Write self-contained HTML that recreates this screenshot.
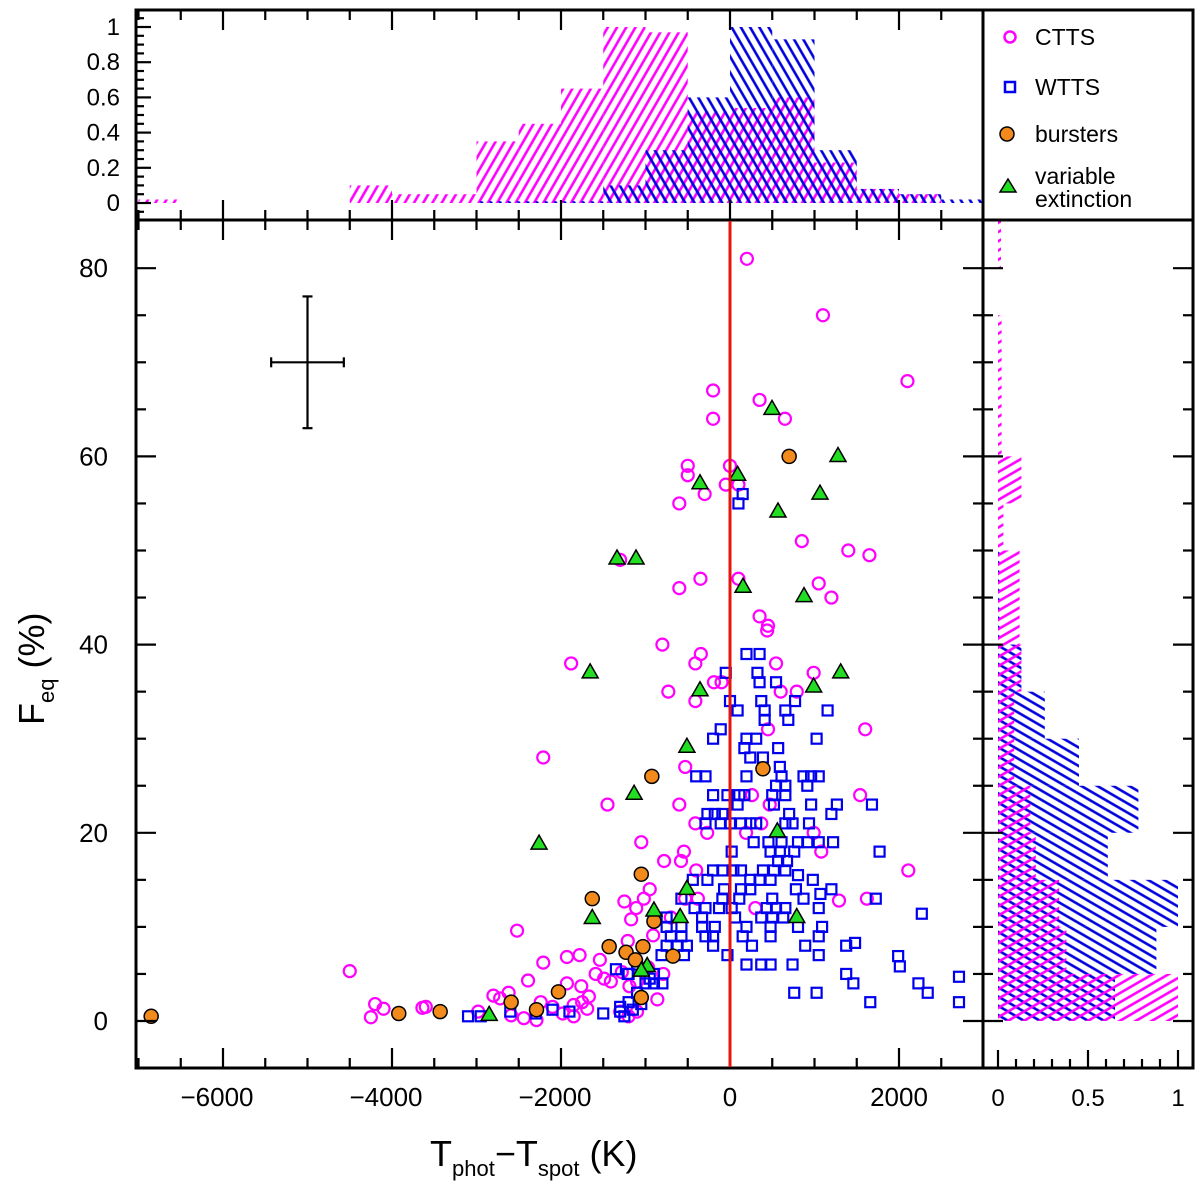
<!DOCTYPE html>
<html><head><meta charset="utf-8"><style>
html,body{margin:0;padding:0;background:#fff;}
svg{display:block;font-family:"Liberation Sans",sans-serif;}
</style></head>
<body>
<svg id="chart" width="1200" height="1186" viewBox="0 0 1200 1186" xmlns="http://www.w3.org/2000/svg">
<defs>
<pattern id="hatchMagTop" patternUnits="userSpaceOnUse" width="8" height="8" patternTransform="rotate(30)"><line x1="4" y1="0" x2="4" y2="8" stroke="#ff00ff" stroke-width="2.6"/></pattern>
<pattern id="hatchBlueTop" patternUnits="userSpaceOnUse" width="8" height="8" patternTransform="rotate(-30)"><line x1="4" y1="0" x2="4" y2="8" stroke="#0000dd" stroke-width="2.6"/></pattern>
<pattern id="hatchMagRight" patternUnits="userSpaceOnUse" width="8" height="8" patternTransform="rotate(-30)"><line x1="0" y1="4" x2="8" y2="4" stroke="#ff00ff" stroke-width="2.6"/></pattern>
<pattern id="hatchBlueRight" patternUnits="userSpaceOnUse" width="8" height="8" patternTransform="rotate(30)"><line x1="0" y1="4" x2="8" y2="4" stroke="#0000dd" stroke-width="2.6"/></pattern>
</defs>
<g id="layer"></g>
</svg>
<script>
// ---- data ----
const topBinEdgesStart = [-7000,-6500,-6000,-5500,-5000,-4500,-4000,-3500,-3000,-2500,-2000,-1500,-1000,-500,0,500,1000,1500,2000,2500];
const topHistCTTS = [0.02,0,0,0,0,0.10,0.05,0.05,0.35,0.45,0.65,1.0,0.97,0.52,0.54,0.60,0.23,0.08,0.05,0];
const topHistWTTS = [0,0,0,0,0,0,0,0,0.01,0.01,0.01,0.10,0.30,0.60,1.0,0.93,0.30,0.08,0.05,0.02];
const rightBinStart = [0,5,10,15,20,25,30,35,40,45,50,55,60,65,70,75,80];
const rightHistCTTS = [1.0,0.38,0.34,0.21,0.18,0.09,0.09,0.13,0.12,0.12,0.03,0.13,0.02,0.02,0.02,0,0.01];
const rightHistWTTS = [0.65,0.88,1.0,0.61,0.78,0.45,0.26,0.13,0.01,0.01,0,0,0,0,0,0,0];

const cttsT = [200,1100,2100,-200,-200,350,650,-500,-500,0,-50,-600,-300,-1300,1400,1650,850,-600,-350,100,1050,1200,350,450,
-800,-345,-410,-190,-730,-410,545,990,600,790,440,1600,450,-2210,-1880,-530,-1450,-600,1540,260,470,-410,-270,190,370,990,
-1050,-545,-780,-580,1080,2110,-950,-1020,-1250,-1110,-530,-380,1290,1620,-1170,-910,-2520,-1210,-1930,-1780,-1540,-2210,
-2390,-1930,-1590,-1490,-1410,-1760,-1670,-3640,-2980,-2800,-2620,-2720,-2590,-2440,-2290,-2240,-1980,-1850,-1690,-1280,
-1190,-1100,-790,-860,-970,-4500,-4200,-4250,-4100,-3600,-1850,-100,-400,300,-1100,-1200,-700,100,-2100,-1300,-1750];
const cttsF = [81,75,68,67,64,66,64,59,58,59,57,55,56,49,50,49.5,51,46,47,47,46.5,45,43,42,
40,39,38,36,35,34,38,37,35,35,41.5,31,31,28,38,27,23,23,24,24,23,21,20,20,21,20,
19,18,17,17,18,16,14,13,12.7,12,13,13,12.8,13,10.8,9.1,9.6,8.5,6.8,7,6.5,6.2,
4.3,4,5,4.5,4.2,3.7,2.6,1.4,1,2.7,3,2.4,0.6,0.3,0.1,2,0.8,1.7,1.3,5.2,
3.7,4.2,5,2.3,5.7,5.3,1.8,0.4,1.3,1.5,0.5,36,16,12,1,0.5,11,57,1.5,1,2];

const wttsT = [195,350,-50,325,350,545,0,90,370,410,410,655,690,770,1155,-110,-200,195,310,170,240,390,570,1025,
-400,-290,195,590,610,870,960,1050,915,545,655,-200,-30,110,170,500,655,90,520,960,1265,1200,1680,
-267,-180,-90,-290,-110,0,130,240,310,700,740,935,655,280,455,610,805,915,1050,1220,20,480,590,760,1770,570,675,
-200,-90,40,130,390,520,655,805,-440,-267,240,350,480,980,-70,130,240,500,780,1070,1200,110,870,1725,-90,-575,
-420,-290,-130,20,435,545,655,1050,-750,-330,60,370,500,630,2270,-750,-575,-330,-180,195,480,805,1090,-700,-575,-290,-200,150,480,1050,
-750,-620,-510,-200,260,890,1375,1480,-810,-545,-30,1050,1990,2010,195,370,480,740,-1210,1375,1460,2230,2340,2710,2710,1660,760,1025,
-3100,-2950,-2300,-1900,-1500,-1300,-1200,-1100,-1000,-950,-900,-800,-1050,-1250,-1150,-2600,-2100,-1350,-1200,-900,-1100,-1300,100,150];
const wttsF = [39,39,37,37,36,36,34,33,34,33,32,33,32,34,33,31,30,30,30,29,28,28,29,30,
26,26,26,27,26,26,26,26,25,25,25,24,24,24,24,24,24,23,23,23,23,22,23,
22,22,22,21,21,21,21,21,21,22,21,21,21,19,19,19,19,19,19,19,18,18,18,18,18,17,17,
16,16,16,16,16,16,16,15.5,15,15,15,15,15,15,14,14,14,13,14,13.5,14,13,13,13,13,13,
12,12,12,12,12,12,12,12,11,11,11,11,11,11,11.4,10,10,10,10,10,10,10,10,9,9,9,9,9,9,9,
8,8,8,8,8,8,8,8.3,7,7,7,7,6.9,5.8,6,6,6,6,5,5,4,4,3,4.7,2,2,3,3,
0.5,0.5,0.8,1,0.8,1,2,3,4,4.5,4,4,1.8,0.5,1.2,1,1.2,5.5,5,5,6,1.5,55,56];

const burstT = [-6850,-3920,-3430,-2590,-2290,-2030,-1630,-1430,-1230,-1120,-1030,-1050,-1050,-900,-925,-675,390,700];
const burstF = [0.5,0.8,1.0,2.0,1.2,3.1,13,7.9,7.3,6.5,7.9,2.5,15.6,10.6,26,6.9,26.8,60];

const triT = [497,1278,90,-355,1065,568,-1337,-1112,154,876,-1655,-355,990,1310,-510,-1135,-2260,560,-510,-1630,-900,-590,790,-980,-1050,-2850];
const triF = [65.1,60.1,58.1,57.2,56.1,54.2,49.2,49.2,46.2,45.2,37.1,35.2,35.6,37.1,29.2,24.2,18.9,20.2,14.1,11.0,11.8,11.1,11.1,5.9,5.4,0.7];

const xTicksMain = [-6000,-4000,-2000,0,2000];
const yTicksMain = [0,20,40,60,80];
const yTicksTop = ["0","0.2","0.4","0.6","0.8","1"];
const xTicksRight = ["0","0.5","1"];

// ---- axes ----
const X0=136, X1=983, Y0=220, Y1=1068;
const xs = t => 730 + t*0.0845;
const ys = f => 1021 - f*9.41;
const topY = v => 203 - v*176;
const rightX = v => 998 + v*180;

const NS="http://www.w3.org/2000/svg";
const layer=document.getElementById('layer');
function el(tag, attrs, parent){
  const e=document.createElementNS(NS,tag);
  for(const k in attrs) e.setAttribute(k,attrs[k]);
  (parent||layer).appendChild(e);
  return e;
}

// top histogram
const gTop=el('g',{});


topBinEdgesStart.forEach((s,i)=>{
  const v=topHistCTTS[i]; if(v<=0) return;
  const r=el('rect',{x:xs(s),y:topY(v),width:xs(s+500)-xs(s),height:topY(0)-topY(v),fill:'url(#hatchMagTop)'},gTop);
  
  
});
topBinEdgesStart.forEach((s,i)=>{
  const v=topHistWTTS[i]; if(v<=0) return;
  const r=el('rect',{x:xs(s),y:topY(v),width:xs(s+500)-xs(s),height:topY(0)-topY(v),fill:'url(#hatchBlueTop)'},gTop);
  
  
});

// right histogram
const gR=el('g',{});


rightBinStart.forEach((s,i)=>{
  const v=rightHistWTTS[i]; if(v<=0) return;
  const r=el('rect',{x:rightX(0),y:ys(s+5),width:rightX(v)-rightX(0),height:ys(s)-ys(s+5),fill:'url(#hatchBlueRight)'},gR);
  
  
});
rightBinStart.forEach((s,i)=>{
  const v=rightHistCTTS[i]; if(v<=0) return;
  const r=el('rect',{x:rightX(0),y:ys(s+5),width:Math.max(rightX(v)-rightX(0),3),height:ys(s)-ys(s+5),fill:'url(#hatchMagRight)'},gR);
  
  
});

// scatter
const gS=el('g',{});


cttsT.forEach((t,i)=>{
  const c=el('circle',{cx:xs(t),cy:ys(cttsF[i]),r:6,fill:'none',stroke:'#ff00ff','stroke-width':2.2},gS);
  
  
});
wttsT.forEach((t,i)=>{
  const c=el('rect',{x:xs(t)-5,y:ys(wttsF[i])-5,width:10,height:10,fill:'none',stroke:'#0000ee','stroke-width':2.2},gS);
  
  
});
burstT.forEach((t,i)=>{
  const c=el('circle',{cx:xs(t),cy:ys(burstF[i]),r:7,fill:'#f28a1c',stroke:'#000','stroke-width':1.5},gS);
  
  
});
triT.forEach((t,i)=>{
  const x=xs(t), y=ys(triF[i]);
  const c=el('polygon',{points:`${x},${y-8} ${x-8},${y+6} ${x+8},${y+6}`,fill:'#22dd22',stroke:'#000','stroke-width':1.5},gS);
  
  
});

// error bar
const eb=el('g',{stroke:'#000','stroke-width':2.2});


el('line',{x1:xs(-5430),y1:ys(70),x2:xs(-4570),y2:ys(70)},eb);
el('line',{x1:xs(-5000),y1:ys(63),x2:xs(-5000),y2:ys(77)},eb);
el('line',{x1:xs(-5430),y1:ys(70)-5,x2:xs(-5430),y2:ys(70)+5},eb);
el('line',{x1:xs(-4570),y1:ys(70)-5,x2:xs(-4570),y2:ys(70)+5},eb);
el('line',{x1:xs(-5000)-5,y1:ys(63),x2:xs(-5000)+5,y2:ys(63)},eb);
el('line',{x1:xs(-5000)-5,y1:ys(77),x2:xs(-5000)+5,y2:ys(77)},eb);

// frames
const gF=el('g',{stroke:'#000','stroke-width':3,fill:'none'});


el('rect',{x:X0,y:10,width:1193-X0,height:Y1-10},gF);
el('line',{x1:X0,y1:Y0,x2:1193,y2:Y0},gF);
el('line',{x1:X1,y1:10,x2:X1,y2:Y1},gF);

// ticks
const gT=el('g',{stroke:'#000','stroke-width':2.2});


for(let t=-7000;t<=2900;t+=500){
  const x=xs(t); if(x<X0+2||x>X1-2) continue;
  const major=(t%2000===0);
  const L=major?20:10;
  el('line',{x1:x,y1:Y1,x2:x,y2:Y1-L},gT);
  el('line',{x1:x,y1:Y0,x2:x,y2:Y0+L},gT);
  el('line',{x1:x,y1:Y0,x2:x,y2:Y0-L},gT);
  el('line',{x1:x,y1:10,x2:x,y2:10+L},gT);
}
for(let f=-5;f<=85;f+=5){
  const y=ys(f); if(y<Y0+2||y>Y1-2) continue;
  const major=(f%20===0);
  const L=major?20:10;
  el('line',{x1:X0,y1:y,x2:X0+L,y2:y},gT);
  el('line',{x1:X1,y1:y,x2:X1-L,y2:y},gT);
  el('line',{x1:X1,y1:y,x2:X1+L,y2:y},gT);
  el('line',{x1:1193,y1:y,x2:1193-L,y2:y},gT);
}
for(let k=0;k<=22;k++){
  const v=-0.05+k*0.05; const y=topY(v); if(y<12||y>218) continue;
  const major=(Math.round(v*100)%20===0);
  el('line',{x1:X0,y1:y,x2:X0+(major?15:8),y2:y},gT);
}
for(let k=0;k<=10;k++){
  const x=rightX(k/10); const major=(k%5===0);
  el('line',{x1:x,y1:Y1,x2:x,y2:Y1-(major?18:9)},gT);
}

// zero line (drawn last so it spans full height)
const zl=el('line',{x1:xs(0),y1:Y0+1,x2:xs(0),y2:Y1-1,stroke:'#e8140c','stroke-width':3});



// labels
const gL=el('g',{'font-size':26,fill:'#000','text-anchor':'middle'});


xTicksMain.forEach(t=>{
  const tx=el('text',{x:xs(t)-(t<0?6:0),y:1106},gL); tx.textContent=(t<0?'\u2212':'')+Math.abs(t);
});
yTicksMain.forEach(f=>{
  const tx=el('text',{x:108,y:ys(f)+9,'text-anchor':'end'},gL); tx.textContent=f;
});
yTicksTop.forEach((s,i)=>{
  const tx=el('text',{x:120,y:topY(i*0.2)+8,'text-anchor':'end','font-size':24},gL); tx.textContent=s;
});
xTicksRight.forEach(s=>{
  const tx=el('text',{x:rightX(parseFloat(s)),y:1106,'font-size':24},gL); tx.textContent=s;
});
</script>
<svg width="1200" height="1186" style="position:absolute;left:0;top:0" xmlns="http://www.w3.org/2000/svg">
<g font-family="Liberation Sans, sans-serif" fill="#000">
<text x="430" y="1166" font-size="36">T<tspan font-size="22" dy="10">phot</tspan><tspan font-size="36" dy="-10">−T</tspan><tspan font-size="22" dy="10">spot</tspan><tspan font-size="36" dy="-10"> (K)</tspan></text>
</g>
<g font-family="Liberation Sans, sans-serif" fill="#000">
<text transform="translate(44,725) rotate(-90)" font-size="36">F<tspan font-size="22" dy="10">eq</tspan><tspan font-size="36" dy="-10"> (%)</tspan></text>
</g>
<g font-family="Liberation Sans, sans-serif" font-size="23" fill="#000">
<g><circle cx="1010" cy="37" r="5.5" fill="none" stroke="#ff00ff" stroke-width="2.5"/><text x="1035" y="45">CTTS</text></g>
<g><rect x="1005" y="82" width="10" height="10" fill="none" stroke="#0000ee" stroke-width="2.5"/><text x="1035" y="95">WTTS</text></g>
<g><circle cx="1007" cy="134" r="7" fill="#f28a1c" stroke="#000" stroke-width="1.5"/><text x="1035" y="142">bursters</text></g>
<g><polygon points="1008,179 1000,192 1016,192" fill="#22dd22" stroke="#000" stroke-width="1.5"/><text x="1035" y="184">variable</text><text x="1035" y="207">extinction</text></g>
</g>
</svg>
</body></html>
